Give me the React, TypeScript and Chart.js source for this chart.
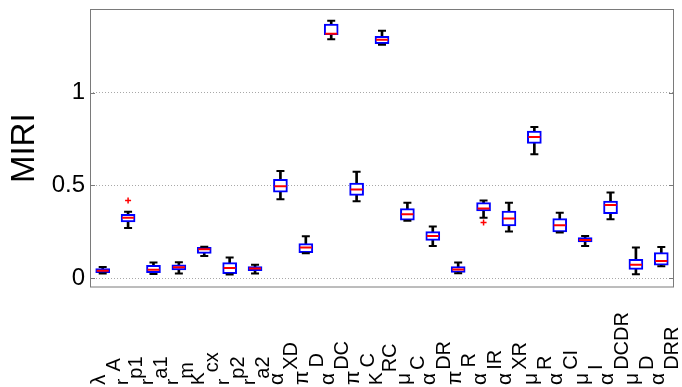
import React, { useEffect, useRef } from 'react';
import { Chart, registerables } from 'chart.js';

Chart.register(...registerables);

const FONT = '"Liberation Sans", Arial, Helvetica, sans-serif';

const categories = ['λ_A', 'r_p1', 'r_a1', 'r_m', 'K_cx', 'r_p2', 'r_a2', 'α_XD', 'π_D', 'α_DC', 'π_C', 'K_RC', 'μ_C', 'α_DR', 'π_R', 'α_IR', 'α_XR', 'μ_R', 'α_CI', 'μ_I', 'α_DCDR', 'μ_D', 'α_DRR'];
const whiskerLow = [0.025, 0.270, 0.023, 0.025, 0.120, 0.020, 0.025, 0.425, 0.134, 1.287, 0.414, 1.258, 0.310, 0.174, 0.027, 0.326, 0.251, 0.668, 0.246, 0.174, 0.317, 0.022, 0.065];
const quartile1 = [0.030, 0.303, 0.030, 0.045, 0.134, 0.024, 0.040, 0.464, 0.138, 1.312, 0.446, 1.263, 0.313, 0.204, 0.031, 0.362, 0.281, 0.726, 0.250, 0.195, 0.348, 0.048, 0.070];
const medians = [0.040, 0.326, 0.045, 0.059, 0.156, 0.055, 0.052, 0.496, 0.165, 1.317, 0.478, 1.285, 0.344, 0.228, 0.047, 0.375, 0.321, 0.760, 0.285, 0.206, 0.394, 0.072, 0.093];
const quartile3 = [0.052, 0.344, 0.070, 0.072, 0.166, 0.084, 0.063, 0.532, 0.186, 1.369, 0.512, 1.303, 0.375, 0.251, 0.063, 0.407, 0.362, 0.792, 0.321, 0.219, 0.416, 0.102, 0.138];
const whiskerHigh = [0.060, 0.358, 0.084, 0.086, 0.170, 0.111, 0.072, 0.577, 0.226, 1.387, 0.574, 1.333, 0.407, 0.278, 0.084, 0.418, 0.407, 0.815, 0.353, 0.228, 0.461, 0.165, 0.168];
const outlierCategories = ['r_p1', 'α_IR'];
const outlierValues = [0.418, 0.300];
const yTicks = [0, 0.5, 1];
const yTickLabels = ['0', '0.5', '1'];

const subLabelPlugin = {
  id: 'subLabels',
  afterDraw(chart: any) {
    const ctx = chart.ctx;
    const xs = chart.scales.x;
    categories.forEach((c, i) => {
      const [main, sub] = c.split('_');
      const x = xs.getPixelForValue(i);
      const greek = /[\u0370-\u03ff]/.test(main);
      ctx.save();
      ctx.translate(x + (greek ? 2.5 : -0.5), 385);
      ctx.rotate(-Math.PI / 2);
      ctx.fillStyle = '#000';
      ctx.textBaseline = 'alphabetic';
      ctx.textAlign = 'left';
      ctx.font = `${greek ? 21 : 19}px ${FONT}`;
      ctx.fillText(main, 0, 0);
      const w = ctx.measureText(main).width + (greek ? 3 : 0);
      ctx.font = `20px ${FONT}`;
      ctx.fillText(sub, w, 14.5);
      ctx.restore();
    });
  },
};

const framePlugin = {
  id: 'frame',
  afterDraw(chart: any) {
    const { ctx, chartArea } = chart;
    const ys = chart.scales.y;
    ctx.save();
    ctx.strokeStyle = '#7a7a7a';
    ctx.lineWidth = 1;
    ctx.strokeRect(chartArea.left + 0.5, chartArea.top + 0.5, chartArea.right - chartArea.left - 1, chartArea.bottom - chartArea.top - 1);
    ctx.beginPath();
    yTicks.forEach((v) => {
      const y = Math.round(ys.getPixelForValue(v)) + 0.5;
      ctx.moveTo(chartArea.left, y);
      ctx.lineTo(chartArea.left + 5, y);
      ctx.moveTo(chartArea.right - 5, y);
      ctx.lineTo(chartArea.right, y);
    });
    ctx.stroke();
    ctx.restore();
  },
};

export default function App() {
  const ref = useRef<HTMLCanvasElement | null>(null);

  useEffect(() => {
    if (!ref.current) return;
    const outlierData = categories.map((c) => {
      const k = outlierCategories.indexOf(c);
      return k >= 0 ? outlierValues[k] : null;
    });
    const chart = new Chart(ref.current, {
      type: 'bar',
      data: {
        labels: categories,
        datasets: [
          {
            type: 'bar',
            data: categories.map((_, i) => [whiskerLow[i], whiskerHigh[i]]),
            backgroundColor: '#000',
            borderWidth: 0,
            barThickness: 2,
            grouped: false,
            order: 6,
          } as any,
          {
            type: 'bar',
            data: categories.map((_, i) => [quartile1[i], quartile3[i]]),
            backgroundColor: '#ffffff',
            borderColor: '#0000ff',
            borderWidth: 2,
            borderSkipped: false,
            barThickness: 14,
            grouped: false,
            order: 5,
          } as any,
          {
            type: 'line',
            data: whiskerHigh,
            showLine: false,
            pointStyle: 'line',
            pointRadius: 4,
            borderColor: '#000',
            pointBorderColor: '#000',
            pointBorderWidth: 2,
            order: 4,
          } as any,
          {
            type: 'line',
            data: whiskerLow,
            showLine: false,
            pointStyle: 'line',
            pointRadius: 4,
            borderColor: '#000',
            pointBorderColor: '#000',
            pointBorderWidth: 2,
            order: 3,
          } as any,
          {
            type: 'line',
            data: medians,
            showLine: false,
            pointStyle: 'line',
            pointRadius: 6,
            borderColor: '#ff0000',
            pointBorderColor: '#ff0000',
            pointBorderWidth: 2,
            order: 2,
          } as any,
          {
            type: 'line',
            data: outlierData,
            showLine: false,
            pointStyle: 'cross',
            pointRadius: 3,
            borderColor: '#ff0000',
            pointBorderColor: '#ff0000',
            pointBorderWidth: 1.5,
            order: 1,
          } as any,
        ],
      },
      options: {
        animation: false,
        responsive: false,
        devicePixelRatio: 1,
        layout: { padding: { top: 9, right: 5, left: 0, bottom: 0 } },
        plugins: { legend: { display: false }, tooltip: { enabled: false } },
        scales: {
          x: {
            type: 'category',
            offset: true,
            grid: { display: false, drawTicks: false },
            border: { display: false },
            ticks: { display: false },
            afterFit: (s: any) => { s.height = 99.5; },
          },
          y: {
            min: -0.05,
            max: 1.45,
            afterBuildTicks: (s: any) => { s.ticks = yTicks.map((v) => ({ value: v })); },
            afterFit: (s: any) => { s.width = 90; s.paddingTop = 0; s.paddingBottom = 0; },
            ticks: {
              callback: (v: any) => { const k = yTicks.indexOf(v); return k >= 0 ? yTickLabels[k] : ''; },
              font: { size: 24, family: FONT, lineHeight: 0.5 },
              color: '#000',
              padding: 5,
            },
            grid: { color: '#a8a8a8', lineWidth: 1, drawTicks: false },
            border: { display: false, dash: [1, 2] },
            title: {
              display: true,
              text: 'MIRI',
              font: { size: 33, family: FONT },
              color: '#000',
              padding: { top: 5, bottom: 0 },
            },
          },
        },
      } as any,
      plugins: [framePlugin, subLabelPlugin],
    });
    return () => chart.destroy();
  }, []);

  return (
    <div style={{ position: 'absolute', left: 0, top: 0, width: 682, height: 387, background: '#fff' }}>
      <canvas ref={ref} width={682} height={387} />
    </div>
  );
}
